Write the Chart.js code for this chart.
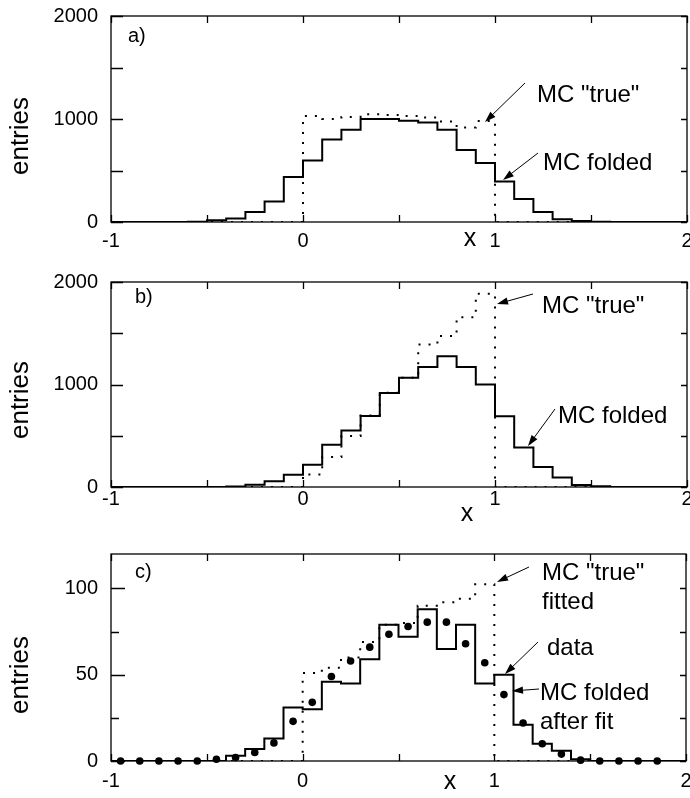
<!DOCTYPE html>
<html>
<head>
<meta charset="utf-8">
<script src="https://cdn.jsdelivr.net/npm/chart.js@4.4.0/dist/chart.umd.min.js"></script>
<style>
  html, body { margin: 0; padding: 0; background: #fff; }
  #wrap { position: relative; width: 690px; height: 798px; }
  canvas { position: absolute; left: 0; }
</style>
</head>
<body>
<div id="wrap">
  <canvas id="chartA" width="690" height="265" style="top:0px"></canvas>
  <canvas id="chartB" width="690" height="265" style="top:265px"></canvas>
  <canvas id="chartC" width="690" height="268" style="top:530px"></canvas>
</div>
<script>
// bins of width 0.1 from -1 to 2 (lower edges), last edge closes the histogram
const binStart = [-1.0, -0.9, -0.8, -0.7, -0.6, -0.5, -0.4, -0.3, -0.2, -0.1,
                   0.0,  0.1,  0.2,  0.3,  0.4,  0.5,  0.6,  0.7,  0.8,  0.9,
                   1.0,  1.1,  1.2,  1.3,  1.4,  1.5,  1.6,  1.7,  1.8,  1.9]
const binEnd = 2.0
const xTicks = [-1, -0.5, 0, 0.5, 1, 1.5, 2]

// a) MC "true" (flat) and MC folded
const foldedA = [0, 0, 0, 0, 3, 16, 33, 98, 200, 436,
                 597, 800, 895, 1000, 1000, 984, 967, 895, 698, 574,
                 393, 223, 98, 26, 10, 3, 0, 0, 0, 0]
const trueA = [0, 0, 0, 0, 0, 0, 0, 0, 0, 0,
               1030, 1000, 1020, 1045, 1040, 1030, 1015, 975, 918, 980,
               0, 0, 0, 0, 0, 0, 0, 0, 0, 0]
const yTicksA = [0, 500, 1000, 1500, 2000]

// b) MC "true" (rising) and MC folded
const foldedB = [0, 0, 0, 0, 0, 0, 5, 23, 55, 120,
                 218, 412, 552, 692, 917, 1067, 1171, 1275, 1171, 1000,
                 690, 386, 196, 92, 20, 7, 0, 0, 0, 0]
const trueB = [0, 0, 0, 0, 0, 0, 0, 0, 0, 0,
               123, 292, 497, 698, 920, 1067, 1390, 1473, 1655, 1885,
               0, 0, 0, 0, 0, 0, 0, 0, 0, 0]
const yTicksB = [0, 500, 1000, 1500, 2000]

// c) data, MC "true" fitted, MC folded after fit
const foldedC = [0, 0, 0, 0, 0, 0, 3, 7, 13, 31,
                 30, 46, 45, 59, 79, 72, 88, 65, 79, 45,
                 50, 21, 10, 6, 1, 0, 0, 0, 0, 0]
const trueC = [0, 0, 0, 0, 0, 0, 0, 0, 0, 0,
               51, 54, 60, 69, 79, 80, 90, 92, 94, 102.5,
               0, 0, 0, 0, 0, 0, 0, 0, 0, 0]
const dataX = [-0.95, -0.85, -0.75, -0.65, -0.55, -0.45, -0.35, -0.25, -0.15, -0.05,
                0.05,  0.15,  0.25,  0.35,  0.45,  0.55,  0.65,  0.75,  0.85,  0.95,
                1.05,  1.15,  1.25,  1.35,  1.45,  1.55,  1.65,  1.75,  1.85]
const dataC = [0, 0, 0, 0, 0, 1, 2, 5, 10.5, 23,
               34, 49, 58, 66, 73.5, 78, 80.5, 80.5, 68, 57,
               38.5, 22, 10, 4, 0.5, 0, 0, 0, 0]
const yTicksC = [0, 25, 50, 75, 100]

const FONT = '"Liberation Sans", Arial, Helvetica, sans-serif'

function histPoints (values) {
  const pts = binStart.map((x, i) => ({ x, y: values[i] }))
  pts.push({ x: binEnd, y: values[values.length - 1] })
  return pts
}

function arrow (ctx, x1, y1, x2, y2) {
  const a = Math.atan2(y2 - y1, x2 - x1)
  const len = 11, half = 3.6
  ctx.beginPath()
  ctx.moveTo(x1, y1)
  ctx.lineTo(x2 - Math.cos(a) * len * 0.8, y2 - Math.sin(a) * len * 0.8)
  ctx.stroke()
  ctx.beginPath()
  ctx.moveTo(x2, y2)
  ctx.lineTo(x2 - Math.cos(a) * len - Math.sin(a) * half, y2 - Math.sin(a) * len + Math.cos(a) * half)
  ctx.lineTo(x2 - Math.cos(a) * len + Math.sin(a) * half, y2 - Math.sin(a) * len - Math.cos(a) * half)
  ctx.closePath()
  ctx.fill()
}

// box frame, inward ticks, panel letter, axis titles and annotations
const framePlugin = {
  id: 'frame',
  afterDatasetsDraw (chart, args, o) {
    const { ctx, chartArea: ca, scales: { x, y } } = chart
    ctx.save()
    ctx.strokeStyle = '#000'
    ctx.fillStyle = '#000'
    ctx.lineWidth = 1.3
    ctx.strokeRect(ca.left, ca.top, ca.right - ca.left, ca.bottom - ca.top)
    ctx.beginPath()
    xTicks.forEach(v => {
      const px = Math.round(x.getPixelForValue(v)) + 0.5
      ctx.moveTo(px, ca.bottom); ctx.lineTo(px, ca.bottom - 7)
      ctx.moveTo(px, ca.top); ctx.lineTo(px, ca.top + 7)
    })
    o.yTicks.forEach(v => {
      const py = Math.round(y.getPixelForValue(v)) + 0.5
      const major = v % o.yLabelStep === 0
      ctx.moveTo(ca.left, py); ctx.lineTo(ca.left + (major ? o.leftMajor : o.leftMinor), py)
      ctx.moveTo(ca.right, py); ctx.lineTo(ca.right - 6, py)
    })
    ctx.stroke()

    ctx.textBaseline = 'alphabetic'
    ctx.textAlign = 'left'
    ctx.font = '20px ' + FONT
    ctx.fillText(o.letter[0], o.letter[1], o.letter[2])

    ctx.font = '25px ' + FONT
    ctx.textAlign = 'center'
    ctx.textBaseline = 'middle'
    ctx.fillText('x', o.xTitle[0], o.xTitle[1])
    ctx.save()
    ctx.translate(21, o.yTitleY)
    ctx.rotate(-Math.PI / 2)
    ctx.font = '26px ' + FONT
    ctx.fillText('entries', 0, 0)
    ctx.restore()

    ctx.font = '24px ' + FONT
    ctx.textAlign = 'left'
    ctx.textBaseline = 'alphabetic'
    ctx.lineWidth = 1
    o.notes.forEach(n => {
      n.lines.forEach((t, i) => ctx.fillText(t, n.x, n.y + i * 29))
      arrow(ctx, n.from[0], n.from[1], n.to[0], n.to[1])
    })
    ctx.restore()
  }
}
Chart.register(framePlugin)

function makePanel (id, opt) {
  const datasets = [
    { data: histPoints(opt.truth), stepped: 'before', borderColor: '#000', borderWidth: 2,
      borderDash: [2, 8], pointRadius: 0, fill: false },
    { data: histPoints(opt.folded), stepped: 'before', borderColor: '#000', borderWidth: 2,
      pointRadius: 0, fill: false }
  ]
  if (opt.points) {
    datasets.push({ type: 'scatter', data: opt.points, pointRadius: 3.8, pointBackgroundColor: '#000',
      pointBorderWidth: 0, showLine: false, clip: false })
  }
  return new Chart(document.getElementById(id), {
    type: 'line',
    data: { datasets },
    options: {
      responsive: false,
      animation: false,
      devicePixelRatio: 1,
      layout: { padding: { top: opt.top, right: 3, left: 0, bottom: 0 } },
      plugins: {
        legend: { display: false },
        tooltip: { enabled: false },
        frame: opt.frame
      },
      scales: {
        x: {
          type: 'linear', min: -1, max: 2,
          grid: { display: false, drawTicks: false },
          border: { display: false },
          ticks: {
            stepSize: 0.5, padding: opt.xPad, color: '#000', maxRotation: 0, autoSkip: false,
            font: { family: FONT, size: 20 },
            callback: v => Number.isInteger(v) ? String(v) : ''
          },
          afterFit: s => { s.height = opt.xAxisH; s.paddingLeft = 0; s.paddingRight = 0 }
        },
        y: {
          min: 0, max: opt.yMax,
          grid: { display: false, drawTicks: false },
          border: { display: false },
          ticks: {
            stepSize: opt.yStep, padding: 13, color: '#000',
            font: { family: FONT, size: 20 },
            callback: v => v % opt.frame.yLabelStep === 0 ? String(v) : ''
          },
          afterFit: s => { s.width = 111; s.paddingTop = 0; s.paddingBottom = 0 }
        }
      }
    }
  })
}

makePanel('chartA', {
  folded: foldedA, truth: trueA, yMax: 2000, yStep: 500, top: 16, xAxisH: 43, xPad: 7,
  frame: {
    yTicks: yTicksA, yLabelStep: 1000, leftMajor: 12, leftMinor: 12,
    letter: ['a)', 128, 42], xTitle: [470, 239], yTitleY: 136,
    notes: [
      { lines: ['MC "true"'], x: 537, y: 102, from: [525, 83], to: [485, 122] },
      { lines: ['MC folded'], x: 543, y: 170, from: [538, 153], to: [503, 180] }
    ]
  }
})

makePanel('chartB', {
  folded: foldedB, truth: trueB, yMax: 2000, yStep: 500, top: 17, xAxisH: 43, xPad: 0,
  frame: {
    yTicks: yTicksB, yLabelStep: 1000, leftMajor: 12, leftMinor: 12,
    letter: ['b)', 135, 38], xTitle: [467, 249], yTitleY: 135,
    notes: [
      { lines: ['MC "true"'], x: 542, y: 48, from: [533, 29], to: [497, 39] },
      { lines: ['MC folded'], x: 558, y: 158, from: [555, 144], to: [528, 181] }
    ]
  }
})

makePanel('chartC', {
  folded: foldedC, truth: trueC, yMax: 120, yStep: 25, top: 24, xAxisH: 37, xPad: 8,
  points: dataX.map((x, i) => ({ x, y: dataC[i] })),
  frame: {
    yTicks: yTicksC, yLabelStep: 50, leftMajor: 14, leftMinor: 8,
    letter: ['c)', 135, 48], xTitle: [450, 252], yTitleY: 145,
    notes: [
      { lines: ['MC "true"', 'fitted'], x: 542, y: 50, from: [529, 37], to: [497, 52] },
      { lines: ['data'], x: 547, y: 125, from: [538, 112], to: [505, 144] },
      { lines: ['MC folded', 'after fit'], x: 540, y: 170, from: [539, 159], to: [512, 161] }
    ]
  }
})
</script>
</body>
</html>
